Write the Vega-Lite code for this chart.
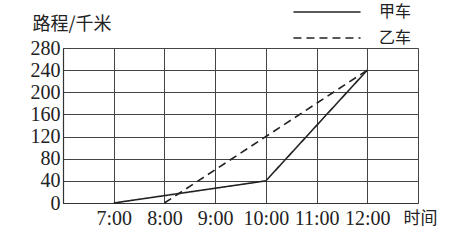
{
  "$schema": "https://vega.github.io/schema/vega-lite/v6.json",
  "autosize": {"type": "none"},
  "width": 355,
  "height": 155,
  "padding": {"left": 63, "top": 48, "right": 34, "bottom": 47},
  "background": "white",
  "config": {
    "view": {"stroke": null},
    "axis": {"labelColor": "#222", "titleColor": "#222", "domainColor": "#333", "gridColor": "#444", "gridOpacity": 1, "gridWidth": 1, "domainWidth": 1.2}
  },
  "data": {
    "values": [
      {"车": "甲车", "时刻": 7, "路程": 0},
      {"车": "甲车", "时刻": 10, "路程": 40},
      {"车": "甲车", "时刻": 12, "路程": 240},
      {"车": "乙车", "时刻": 8, "路程": 0},
      {"车": "乙车", "时刻": 12, "路程": 240}
    ]
  },
  "mark": {"type": "line", "color": "#222", "strokeWidth": 1.6},
  "encoding": {
    "x": {
      "field": "时刻", "type": "quantitative",
      "scale": {"domain": [6, 13], "nice": false, "zero": false},
      "axis": {
        "values": [6, 7, 8, 9, 10, 11, 12, 13],
        "labelExpr": "datum.value >= 7 && datum.value <= 12 ? datum.value + ':00' : ''",
        "ticks": false, "grid": true, "labelFont": "Liberation Serif", "labelFontSize": 20,
        "labelPadding": 5, "labelOverlap": false, "labelFlush": false,
        "title": "时间", "titleFont": "Noto Sans CJK SC", "titleFontSize": 17, "titleFontWeight": "normal",
        "titleAlign": "left", "titleBaseline": "middle", "titleX": 340, "titleY": 15
      }
    },
    "y": {
      "field": "路程", "type": "quantitative",
      "scale": {"domain": [0, 280], "nice": false},
      "axis": {
        "values": [0, 40, 80, 120, 160, 200, 240, 280],
        "ticks": false, "grid": true, "labelFont": "Liberation Serif", "labelFontSize": 20,
        "labelPadding": 3, "labelFlush": false,
        "title": "路程/千米", "titleFont": "Noto Sans CJK SC", "titleFontSize": 18, "titleFontWeight": "normal",
        "titleAngle": 0, "titleAlign": "left", "titleBaseline": "middle", "titleX": -31, "titleY": -24
      }
    },
    "strokeDash": {
      "field": "车", "type": "nominal",
      "scale": {"domain": ["甲车", "乙车"], "range": [[1, 0], [8, 5]]},
      "legend": {
        "orient": "none", "legendX": 256, "legendY": -44, "title": null, "padding": 0,
        "symbolType": "M-10,0H10", "symbolSize": 45, "symbolStrokeWidth": 1.5, "symbolStrokeColor": "#222",
        "symbolFillColor": "transparent",
        "labelOffset": 44, "labelFont": "Noto Sans CJK SC", "labelFontSize": 16, "labelColor": "#222",
        "rowPadding": 10
      }
    }
  }
}
